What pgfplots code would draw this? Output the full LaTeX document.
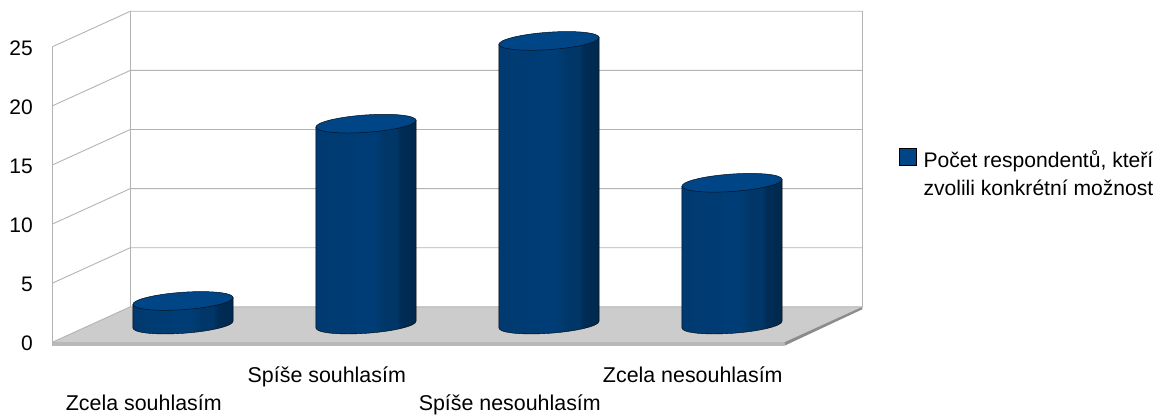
\documentclass[border=0pt]{standalone}
\usepackage{fontspec}
\setmainfont{Liberation Sans}
\usepackage{pgfplots}
\pgfplotsset{compat=1.18}

\definecolor{topblue}{HTML}{004586}
\definecolor{wallgray}{HTML}{B3B3B3}
\definecolor{floorgray}{HTML}{CCCCCC}
\definecolor{slabgray}{HTML}{B8B8B8}
\definecolor{sidegray}{HTML}{8C8C8C}
\definecolor{cyla}{HTML}{003A70}
\definecolor{cylb}{HTML}{003C75}
\definecolor{cylc}{HTML}{003768}
\definecolor{cyld}{HTML}{002C56}
\definecolor{cyle}{HTML}{00284C}
% the path's box fills the middle of the shading, 25bp to 75bp
\pgfdeclarehorizontalshading{cylbody}{100bp}{
  color(0bp)=(cyla); color(25bp)=(cyla); color(47bp)=(cylb); color(54bp)=(cylb); color(59bp)=(cylc);
  color(65bp)=(cylc); color(67bp)=(cyld); color(75bp)=(cyle); color(100bp)=(cyle)
}

% one cylinder; the mark sits on the top face, its height comes from the y value
\pgfdeclareplotmark{cylinder}{%
  \pgfmathsetlengthmacro{\cylH}{\cylv*11.82pt}%
  \path[shade,shading=cylbody]
    (-50.08pt,-3.5pt) -- ([yshift=-\cylH]-50.08pt,-3.5pt)
    .. controls ([yshift=-\cylH]-49.745pt,-8.29pt) and ([yshift=-\cylH]-27.05pt,-10.61pt)
    .. ([yshift=-\cylH]0.607pt,-8.68pt)
    .. controls ([yshift=-\cylH]28.27pt,-6.75pt) and ([yshift=-\cylH]50.415pt,-1.29pt)
    .. ([yshift=-\cylH]50.08pt,3.5pt)
    -- (50.08pt,3.5pt) -- cycle;
  \draw[fill=topblue,draw=black!75!topblue,line width=0.5pt]
    (50.08pt,3.5pt)
    .. controls (49.745pt,8.29pt) and (27.05pt,10.61pt) .. (-0.607pt,8.68pt)
    .. controls (-28.27pt,6.75pt) and (-50.415pt,1.29pt) .. (-50.08pt,-3.5pt)
    .. controls (-49.745pt,-8.29pt) and (-27.05pt,-10.61pt) .. (0.607pt,-8.68pt)
    .. controls (28.27pt,-6.75pt) and (50.415pt,-1.29pt) .. (50.08pt,3.5pt) -- cycle;
}

\begin{document}
\begin{tikzpicture}
\path[use as bounding box,clip] (-52.3pt,-72.7pt) rectangle (1119.7pt,342.3pt);
\begin{axis}[
  scale only axis,width=732pt,height=295.5pt,
  xmin=-0.5,xmax=3.5,ymin=0,ymax=25,clip=false,
  axis line style={draw=none},tick style={draw=none},
  ytick={0,5,...,25},
  xtick={1,3},xticklabels={Spíše souhlasím,Zcela nesouhlasím},
  extra x ticks={0,2},
  extra x tick labels={Zcela souhlasím,Spíše nesouhlasím},
  extra x tick style={xticklabel style={yshift=-28pt}},
  xticklabel style={yshift=-21pt,font=\fontsize{21.4}{26}\selectfont},
  yticklabel style={xshift=-16pt,yshift=-1pt,font=\fontsize{21}{25}\selectfont},
  /pgf/number format/assume math mode=true,
  legend style={at={(1.153,0.569)},anchor=west,draw=none,fill=none,
    font=\fontsize{21.1}{28}\selectfont,
    nodes={align=left,inner sep=0pt},column sep=7pt},
  legend cell align=left,
]
% floor
\fill[floorgray] (axis cs:-0.5,0) -- ([shift={(78pt,35.5pt)}]axis cs:-0.5,0)
  -- ([shift={(78pt,35.5pt)}]axis cs:3.5,0) -- (axis cs:3.5,0) -- cycle;
\fill[slabgray] (axis cs:-0.5,0) -- (axis cs:3.5,0)
  -- ([yshift=-3.5pt]axis cs:3.5,0) -- ([yshift=-3.5pt]axis cs:-0.5,0) -- cycle;
\fill[sidegray] (axis cs:3.5,0) -- ([shift={(78pt,35.5pt)}]axis cs:3.5,0)
  -- ([shift={(78pt,33pt)}]axis cs:3.5,0) -- ([yshift=-3.5pt]axis cs:3.5,0) -- cycle;
% walls and their grid
\pgfplotsinvokeforeach{0,5,...,25}{
  \draw[wallgray,line width=0.9pt] (axis cs:-0.5,#1) -- ([shift={(78pt,35.5pt)}]axis cs:-0.5,#1)
    -- ([shift={(78pt,35.5pt)}]axis cs:3.5,#1);
}
\draw[wallgray,line width=0.9pt] (axis cs:-0.5,0) -- (axis cs:-0.5,25);
\draw[wallgray,line width=0.9pt] ([shift={(78pt,35.5pt)}]axis cs:-0.5,0) -- ([shift={(78pt,35.5pt)}]axis cs:-0.5,25);
\draw[wallgray,line width=0.9pt] ([shift={(78pt,35.5pt)}]axis cs:3.5,0) -- ([shift={(78pt,35.5pt)}]axis cs:3.5,25);

\addplot[only marks,scatter,scatter src=y,mark=cylinder,
  xshift=39.2pt,yshift=17.7pt,
  visualization depends on={y\as\cylv},
  scatter/@pre marker code/.code={\pgfscope},
  scatter/@post marker code/.code={\endpgfscope},
  legend image code/.code={
    \path[draw=none,fill=none] (0pt,0pt) rectangle (17pt,0pt);
    \draw[overlay,fill=topblue,draw=black,line width=0.5pt] (0pt,-8.5pt) rectangle (17pt,8.5pt);
  },
] coordinates {(0,2) (1,17) (2,24) (3,12)};
\addlegendentry{Počet respondentů, kteří\\zvolili konkrétní možnost}
\end{axis}
\end{tikzpicture}
\end{document}
